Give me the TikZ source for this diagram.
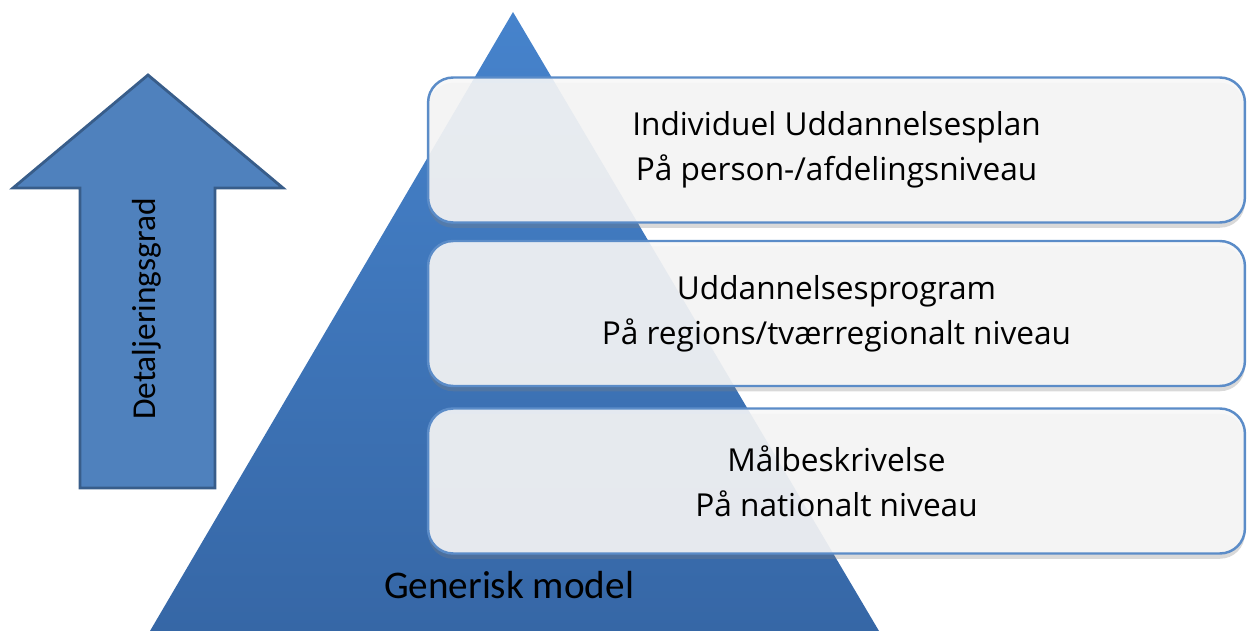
\documentclass[tikz,border=0pt]{standalone}
\usepackage{fontspec}
\setmainfont{Carlito}
\newfontfamily\boxfont{Open Sans}
\usetikzlibrary{shadows}
\pgfdeclarelayer{bg}
\pgfsetlayers{bg,main}
\definecolor{arrowblue}{HTML}{4F81BD}
\definecolor{arrowline}{HTML}{385D8A}
\definecolor{pyrtop}{HTML}{4683CC}
\definecolor{pyrbot}{HTML}{3667A6}
\definecolor{boxline}{HTML}{5B8CC8}
\definecolor{boxfill}{HTML}{F7F7F7}

\begin{document}
\begin{tikzpicture}[x=0.02cm, y=-0.02cm,
    level/.style={draw=boxline, line width=1.4pt, fill=boxfill, fill opacity=0.9,
        text opacity=1, rounded corners=0.5cm, minimum width=16.34cm,
        minimum height=2.9cm, align=center,
        font=\boxfont\fontsize{18}{25.6}\selectfont,
        drop shadow={shadow xshift=0pt, shadow yshift=-3pt, opacity=0.3}}]
    \useasboundingbox (0,0) rectangle (1247,631);

    \begin{pgfonlayer}{bg}
        % pil og pyramide
        \draw[fill=arrowblue, draw=arrowline, line width=1.6pt] (148,75) -- (283,188) -- (215,188) -- (215,488) -- (80,488) -- (80,188) -- (13,188) -- cycle;
        \shade[top color=pyrtop, bottom color=pyrbot] (513,12) -- (879,631) -- (150,631) -- cycle;
    \end{pgfonlayer}

    \node (det) [rotate=90, font=\fontsize{19}{22}\selectfont] at (147,309) {Detaljeringsgrad};
    \node (gen) [font=\fontsize{22.3}{26}\selectfont] at (509,585) {Generisk model};

    \node (plan) [level] at (836.5,150) {Individuel Uddannelsesplan\\På person-/afdelingsniveau};
    \node (prog) [level] at (836.5,313.5) {Uddannelsesprogram\\På regions/tværregionalt niveau};
    \node (maal) [level] at (836.5,481) {Målbeskrivelse\\På nationalt niveau};
\end{tikzpicture}
\end{document}
